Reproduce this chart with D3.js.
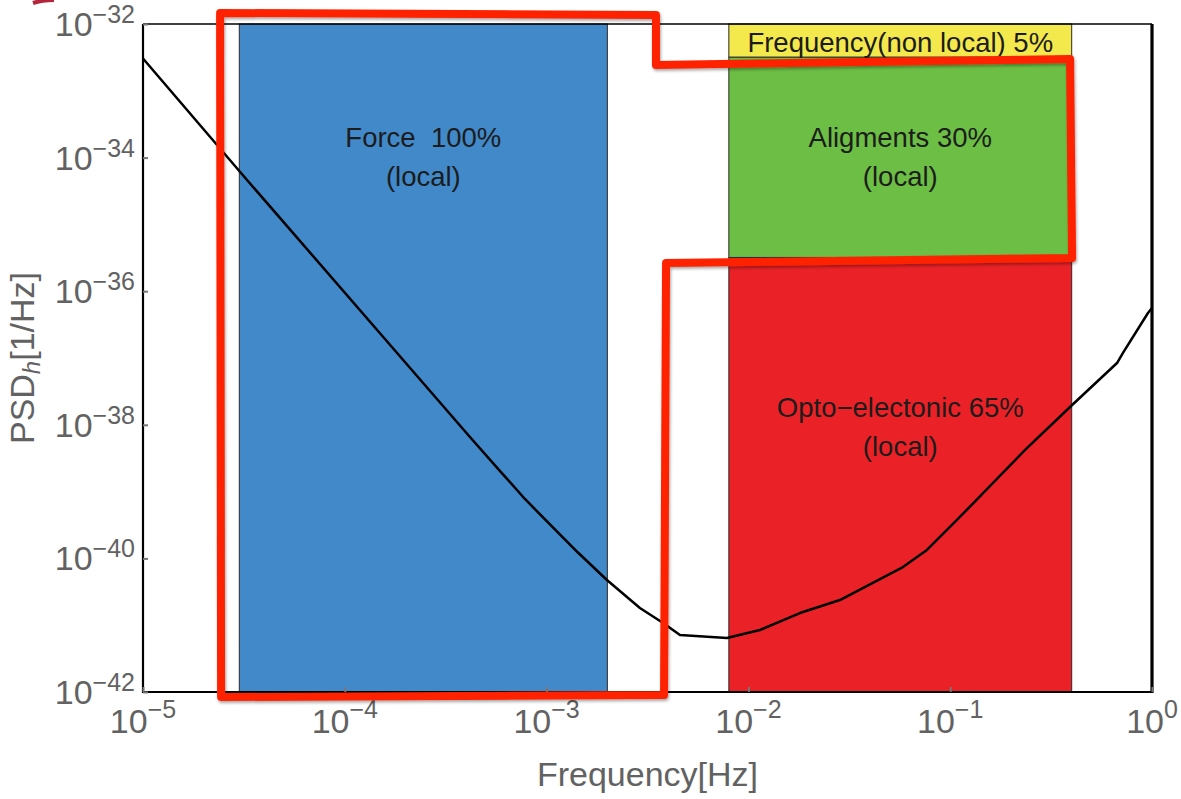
<!DOCTYPE html>
<html>
<head>
<meta charset="utf-8">
<script src="https://cdn.jsdelivr.net/npm/d3@7"></script>
<style>
  html, body { margin: 0; padding: 0; background: #fff; }
  svg { display: block; font-family: "Liberation Sans", Arial, Helvetica, sans-serif; }
</style>
</head>
<body>
<svg id="chart" width="1181" height="799"></svg>
<script>
// ---------------- data ----------------
const freq = [1e-5, 3.03e-5, 1.49e-4, 4.17e-4, 5.88e-4, 7.81e-4, 1.039e-3, 1.43e-3, 1.99e-3, 2.9e-3, 3.78e-3, 4.58e-3, 7.83e-3,
              1.14e-2, 1.8e-2, 2.84e-2, 5.83e-2, 7.67e-2, 0.108, 0.235, 0.402, 0.671, 0.718, 0.955, 1.0];
const psd  = [3.05e-33, 6.08e-35, 2.37e-37, 6.56e-39, 2.03e-39, 7.75e-40, 3.22e-40, 1.225e-40, 4.75e-41, 1.81e-41, 1.08e-41, 7.13e-42, 6.43e-42,
              8.47e-42, 1.52e-41, 2.38e-41, 7.43e-41, 1.34e-40, 3.76e-40, 4.2e-39, 1.98e-38, 8.41e-38, 1.19e-37, 4.72e-37, 5.6e-37];

const bandNames  = ["Force", "Opto", "Aligments", "Frequency"];
const bandFLow   = [3e-5, 8e-3, 8e-3, 8e-3];
const bandFHigh  = [2e-3, 0.4, 0.4, 0.4];
const bandPLow   = [1e-42, 1e-42, 3.2e-36, 3.2e-33];
const bandPHigh  = [1e-32, 3.2e-36, 3.2e-33, 1e-32];
const bandColors = ["#4189C8", "#EA2227", "#6CBE45", "#F3E84C"];
const bandLine1  = ["Force\u00A0 100%", "Opto\u2212electonic 65%", "Aligments 30%", "Frequency(non local) 5%"];
const bandLine2  = ["(local)", "(local)", "(local)", ""];

const xTickValues = [1e-5, 1e-4, 1e-3, 1e-2, 1e-1, 1e0];
const yTickValues = [1e-42, 1e-40, 1e-38, 1e-36, 1e-34, 1e-32];

// hand-drawn red annotation outline (log10 of frequency, log10 of PSD)
const outlineLogF   = [-4.618, -2.458, -2.458, -0.406, -0.396, -2.408, -2.418, -4.613];
const outlineLogPSD = [-31.835, -31.865, -32.614, -32.524, -35.503, -35.578, -42.045, -42.075];

// ---------------- layout ----------------
const X0 = 143, X1 = 1152, Y0 = 24, Y1 = 692;
const svg = d3.select("#chart");

const x = d3.scaleLog().domain([1e-5, 1]).range([X0, X1]);
const y = d3.scaleLog().domain([1e-42, 1e-32]).range([Y1, Y0]);

const defs = svg.append("defs");
const f = defs.append("filter").attr("id", "shadow").attr("x", "-5%").attr("y", "-5%").attr("width", "110%").attr("height", "110%");
f.append("feDropShadow").attr("dx", 1).attr("dy", 2).attr("stdDeviation", 1.5)
  .attr("flood-color", "#000").attr("flood-opacity", 0.35);

// bands
const bands = bandNames.map((n, i) => ({n, i}));
svg.append("g").selectAll("rect").data(bands).join("rect")
  .attr("x", d => x(bandFLow[d.i]))
  .attr("y", d => y(bandPHigh[d.i]))
  .attr("width", d => x(bandFHigh[d.i]) - x(bandFLow[d.i]))
  .attr("height", d => y(bandPLow[d.i]) - y(bandPHigh[d.i]))
  .attr("fill", d => bandColors[d.i])
  .attr("stroke", "#2a2a2a")
  .attr("stroke-width", 1);

// band labels
const labelOffsets = [123, 160, 90, 28];
const lg = svg.append("g").attr("font-size", 27.5).attr("fill", "#1c1c1c").attr("text-anchor", "middle");
bands.forEach(d => {
  const cx = (x(bandFLow[d.i]) + x(bandFHigh[d.i])) / 2;
  const top = y(bandPHigh[d.i]);
  lg.append("text").attr("x", cx).attr("y", top + labelOffsets[d.i]).text(bandLine1[d.i]);
  if (bandLine2[d.i]) {
    lg.append("text").attr("x", cx).attr("y", top + labelOffsets[d.i] + 39).text(bandLine2[d.i]);
  }
});

// curve
svg.append("path")
  .datum(freq.map((fv, i) => [fv, psd[i]]))
  .attr("fill", "none").attr("stroke", "#000").attr("stroke-width", 2.5)
  .attr("stroke-linejoin", "round")
  .attr("d", d3.line().x(d => x(d[0])).y(d => y(d[1])));

// frame
const fr = svg.append("g").attr("stroke", "#000").attr("fill", "none");
fr.append("line").attr("x1", X0).attr("x2", X1).attr("y1", Y0).attr("y2", Y0).attr("stroke-width", 1.6);
fr.append("line").attr("x1", X0).attr("x2", X1 + 1).attr("y1", Y1).attr("y2", Y1).attr("stroke-width", 2.2);
fr.append("line").attr("x1", X0).attr("x2", X0).attr("y1", Y0).attr("y2", Y1 + 1).attr("stroke-width", 2.2);
fr.append("line").attr("x1", X1).attr("x2", X1).attr("y1", Y0).attr("y2", Y1 + 1).attr("stroke-width", 3.2);

// axes (ticks inside, labels custom)
const xAxis = svg.append("g").attr("transform", `translate(0,${Y1})`)
  .call(d3.axisTop(x).tickValues(xTickValues).tickSize(5).tickFormat(""));
xAxis.select(".domain").remove();
xAxis.selectAll("line").attr("stroke", "#777").attr("stroke-width", 2);

const yAxis = svg.append("g").attr("transform", `translate(${X0},0)`)
  .call(d3.axisRight(y).tickValues(yTickValues).tickSize(5).tickFormat(""));
yAxis.select(".domain").remove();
yAxis.selectAll("line").attr("stroke", "#777").attr("stroke-width", 2);

const tickColor = "#626262";
// x tick labels
const xl = svg.append("g").attr("fill", tickColor).attr("text-anchor", "middle");
xTickValues.forEach(v => {
  const e = Math.round(Math.log10(v));
  const t = xl.append("text").attr("x", x(v)).attr("y", Y1 + 41).attr("font-size", 34);
  t.append("tspan").text("10");
  t.append("tspan").attr("font-size", 25).attr("dy", -15).text(e < 0 ? "\u2212" + (-e) : String(e));
});
// y tick labels
const yl = svg.append("g").attr("fill", tickColor).attr("text-anchor", "end");
yTickValues.forEach(v => {
  const e = Math.round(Math.log10(v));
  const t = yl.append("text").attr("x", X0 - 8).attr("y", y(v) + 12).attr("font-size", 34);
  t.append("tspan").text("10");
  t.append("tspan").attr("font-size", 25).attr("dy", -13).text(e < 0 ? "\u2212" + (-e) : String(e));
});

// axis titles
svg.append("text").attr("x", (X0 + X1) / 2).attr("y", 786).attr("text-anchor", "middle")
  .attr("font-size", 34).attr("fill", tickColor).text("Frequency[Hz]");
const yt = svg.append("text").attr("transform", `translate(34,${(Y0 + Y1) / 2}) rotate(-90)`)
  .attr("text-anchor", "middle").attr("font-size", 34).attr("fill", tickColor);
yt.append("tspan").text("PSD");
yt.append("tspan").attr("font-size", 24).attr("font-style", "italic").attr("dy", 6).text("h");
yt.append("tspan").attr("dy", -6).text("[1/Hz]");

// red annotation outline
const outlinePts = outlineLogF.map((lf, i) => [Math.pow(10, lf), Math.pow(10, outlineLogPSD[i])]);
svg.append("path")
  .datum(outlinePts)
  .attr("fill", "none").attr("stroke", "#FF2200").attr("stroke-width", 8)
  .attr("stroke-linejoin", "round").attr("filter", "url(#shadow)")
  .attr("d", d3.line().x(d => x(d[0])).y(d => y(d[1])).curve(d3.curveLinearClosed));

// small cropped mark at the very top-left of the original image
svg.append("path").attr("d", "M33,3 Q42,0 54,0").attr("stroke", "#B3253A").attr("stroke-width", 4).attr("fill", "none");
</script>
</body>
</html>
